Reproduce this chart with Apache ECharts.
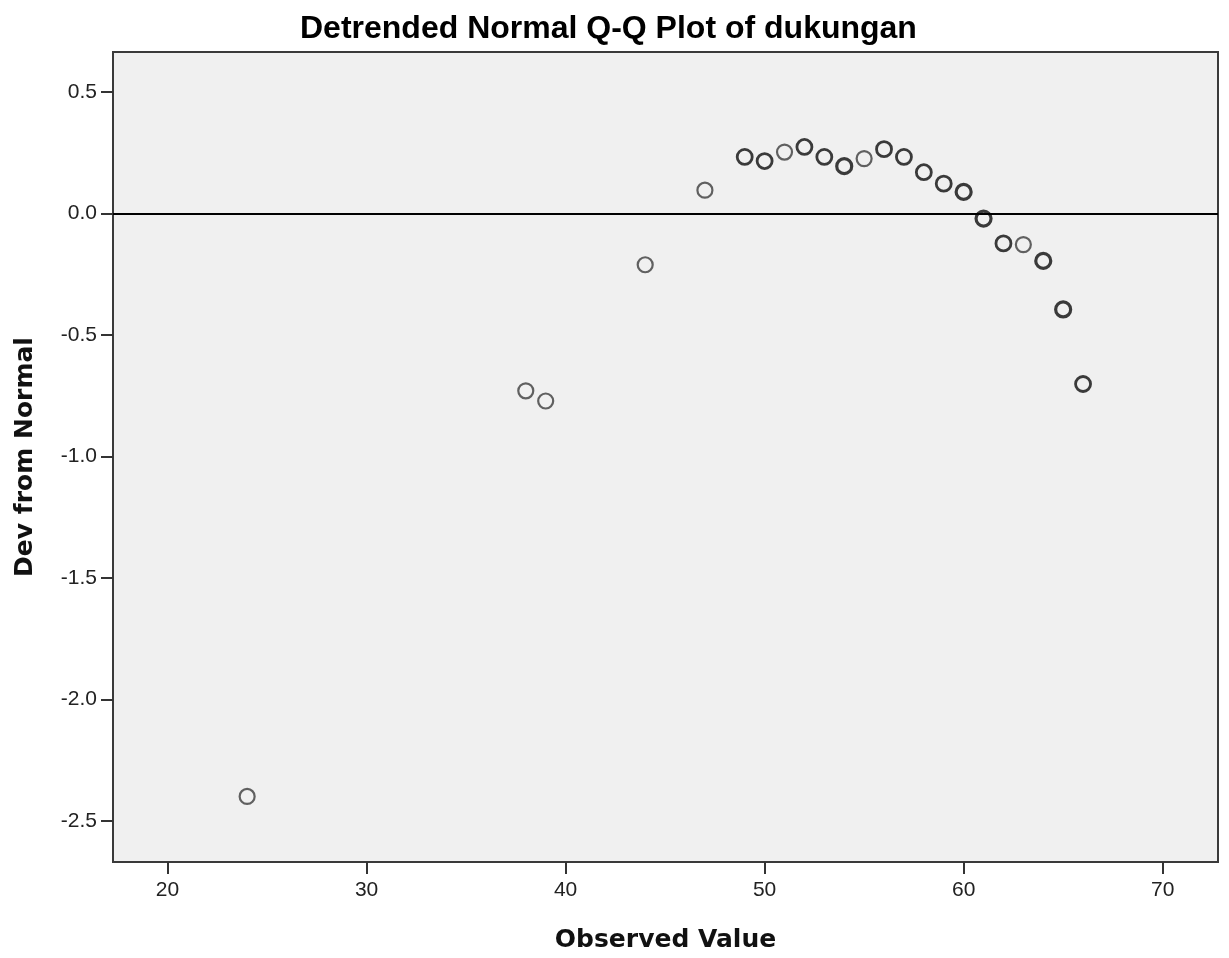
<!DOCTYPE html>
<html>
<head>
<meta charset="utf-8">
<script src="https://cdn.jsdelivr.net/npm/echarts@6/dist/echarts.min.js"></script>
<style>
  html, body { margin: 0; padding: 0; background: #fff; }
  #chart { width: 1229px; height: 958px; }
</style>
</head>
<body>
<div id="chart"></div>
<script>
// observed values and their deviation from normal
var observed = [24, 38, 39, 44, 47, 49, 50, 51, 52, 53, 54, 55, 56, 57, 58, 59, 60, 61, 62, 63, 64, 65, 66];
var devFromNormal = [-2.400, -0.730, -0.772, -0.211, 0.096, 0.233, 0.216, 0.253, 0.274, 0.233, 0.195, 0.226,
    0.265, 0.233, 0.170, 0.123, 0.089, -0.021, -0.123, -0.128, -0.195, -0.395, -0.702];
// tied cases (drawn on top of each other, looks darker)
var caseCount = [1, 1, 1, 1, 1, 2, 2, 1, 2, 2, 3, 1, 2, 2, 2, 2, 3, 3, 2, 1, 3, 3, 2];

var xTicks = [20, 30, 40, 50, 60, 70];
var yTicks = [-2.5, -2.0, -1.5, -1.0, -0.5, 0.0, 0.5];

var chart = echarts.init(document.getElementById('chart'));

var points = [];
for (var i = 0; i < observed.length; i++) {
    var n = caseCount[i];
    points.push({
        value: [observed[i], devFromNormal[i]],
        itemStyle: {
            borderColor: n > 1 ? '#0c0c0c' : '#3c3c3c',
            borderWidth: n > 2 ? 3.2 : (n > 1 ? 2.8 : 2.2)
        }
    });
}

var tickFont = { fontFamily: 'Liberation Sans, Arial, sans-serif', fontSize: 21, color: '#222' };

var option = {
    animation: false,
    backgroundColor: '#fff',
    title: {
        text: 'Detrended Normal Q-Q Plot of dukungan',
        left: 295,
        top: 8,
        textStyle: {
            fontFamily: 'Liberation Sans, Arial, sans-serif',
            fontSize: 32,
            fontWeight: 'bold',
            color: '#000'
        }
    },
    grid: {
        left: 113,
        top: 52,
        right: 11,
        bottom: 96,
        show: true,
        backgroundColor: '#f0f0f0',
        borderColor: '#3a3a3a',
        borderWidth: 2
    },
    xAxis: {
        type: 'value',
        min: 17.26,
        max: 72.78,
        name: 'Observed Value',
        nameLocation: 'middle',
        nameGap: 66,
        nameTextStyle: {
            fontFamily: 'DejaVu Sans, sans-serif',
            fontSize: 25,
            fontWeight: 'bold',
            color: '#111'
        },
        axisLine: { show: false, onZero: false },
        splitLine: { show: false },
        axisTick: {
            show: true,
            length: 12,
            customValues: xTicks,
            lineStyle: { color: '#333', width: 2 }
        },
        axisLabel: Object.assign({
            margin: 18,
            customValues: xTicks
        }, tickFont)
    },
    yAxis: {
        type: 'value',
        min: -2.67,
        max: 0.665,
        name: 'Dev from Normal',
        nameLocation: 'middle',
        nameGap: 75,
        nameTextStyle: {
            fontFamily: 'DejaVu Sans, sans-serif',
            fontSize: 25,
            fontWeight: 'bold',
            color: '#111'
        },
        axisLine: { show: false, onZero: false },
        splitLine: { show: false },
        axisTick: {
            show: true,
            length: 12,
            customValues: yTicks,
            lineStyle: { color: '#333', width: 2 }
        },
        axisLabel: Object.assign({
            margin: 16,
            padding: [14, 0, 0, 0],
            customValues: yTicks,
            formatter: function (v) { return v.toFixed(1); }
        }, tickFont)
    },
    series: [{
        type: 'scatter',
        symbol: 'circle',
        symbolSize: 15,
        itemStyle: { color: 'rgba(0,0,0,0)' },
        data: points,
        markLine: {
            silent: true,
            symbol: 'none',
            label: { show: false },
            lineStyle: { color: '#000', width: 2, type: 'solid' },
            data: [{ yAxis: 0 }]
        }
    }]
};

chart.setOption(option);
</script>
</body>
</html>
